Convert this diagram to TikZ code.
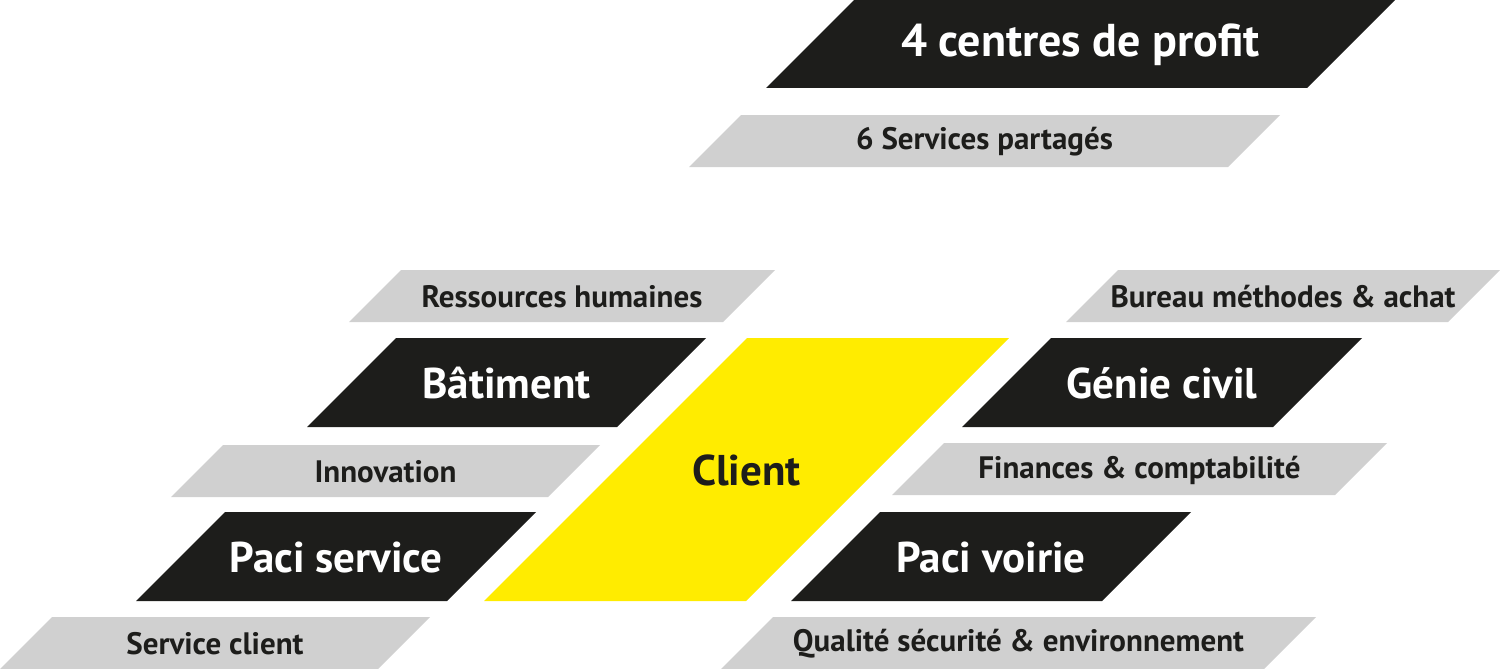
\documentclass[tikz,border=0pt]{standalone}
\usepackage{fontspec}
\setmainfont{PT Sans}
\usetikzlibrary{calc}
\definecolor{orgblack}{HTML}{1D1D1B}
\definecolor{orggray}{HTML}{D0D0D0}
\definecolor{orgyellow}{HTML}{FFEC00}
\tikzset{
    org_center/.style={
        fill=orgblack,
        text=white,
        font=\bfseries\fontsize{43}{43}\selectfont
    },
    org_top/.style={
        org_center,
        font=\bfseries\fontsize{46}{46}\selectfont
    },
    org_service/.style={
        fill=orggray,
        text=orgblack,
        font=\bfseries\fontsize{31}{31}\selectfont
    },
    org_client/.style={
        fill=orgyellow,
        text=orgblack,
        font=\bfseries\fontsize{43}{43}\selectfont
    }
}
% #1 style, #2 name, #3/#4 lower left corner, #5 width, #6 height, #7 text
\newcommand{\orgslab}[7]{
    \fill[#1] (#3,#4) -- ({#3+#5},#4) -- ({#3+#5+#6},{#4-#6}) -- ({#3+#6},{#4-#6}) -- cycle;
    \node[#1, fill=none, inner sep=0pt] (#2) at ({#3+#5/2+#6/2},{#4-#6/2+1}) {#7};
}

\begin{document}
\begin{tikzpicture}[x=1pt, y=-1pt]
\useasboundingbox (0,0) rectangle (1500,669);

% group level
\orgslab{org_top}{Profit}{766}{88}{541}{88}{4 centres de profit}
\orgslab{org_service}{Shared}{689}{167}{539}{52}{6 Services partagés}

% client in the middle
\orgslab{org_client}{Client}{484}{601}{262}{263}{Client}

% left side
\orgslab{org_service}{RH}{349}{322}{374}{52}{Ressources humaines}
\orgslab{org_center}{Batiment}{307}{427}{310}{89}{Bâtiment}
\orgslab{org_service}{Innov}{171}{497}{377}{52}{Innovation}
\orgslab{org_center}{PaciService}{136}{601}{311}{89}{Paci service}
\orgslab{org_service}{ServClient}{0}{669}{378}{52}{Service client}

% right side
\orgslab{org_service}{Bureau}{1066}{322}{382}{52}{Bureau méthodes \& achat}
\orgslab{org_center}{GenieCivil}{962}{427}{311}{89}{Génie civil}
\orgslab{org_service}{Finances}{892}{495}{443}{52}{Finances \& comptabilité}
\orgslab{org_center}{PaciVoirie}{791}{601}{311}{89}{Paci voirie}
\orgslab{org_service}{Qualite}{721}{669}{543}{52}{Qualité sécurité \& environnement}

\end{tikzpicture}
\end{document}
